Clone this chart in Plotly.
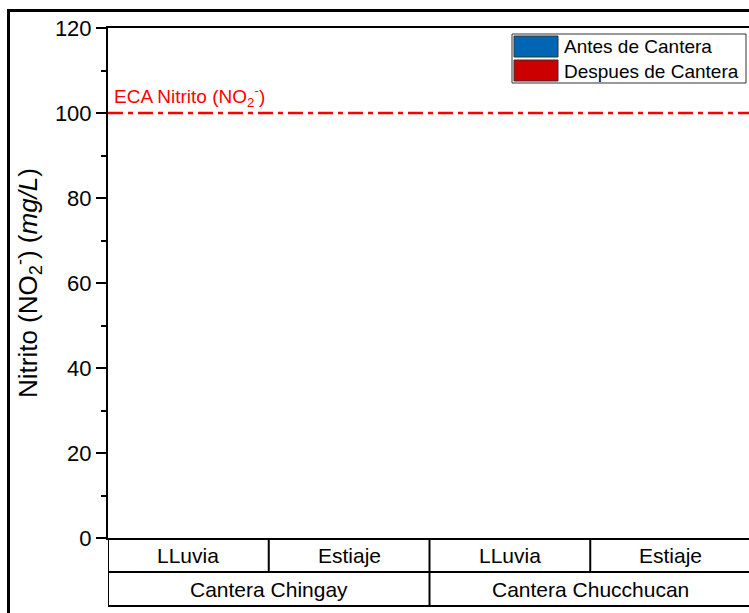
import plotly.graph_objects as go

# Data
periods = ["LLuvia", "Estiaje", "LLuvia", "Estiaje"]
canteras = ["Cantera Chingay", "Cantera Chucchucan"]
antes = [0, 0, 0, 0]
despues = [0, 0, 0, 0]
eca_value = 100
series_names = ["Antes de Cantera", "Despues de Cantera"]
series_colors = ["#0066B3", "#CC0000"]
y_ticks = [0, 20, 40, 60, 80, 100, 120]

FONT = "Liberation Sans, Arial, sans-serif"
xpos = list(range(len(periods)))

W, H = 749, 613
PL, PT, PB = 108, 28, 538
PR = 751  # the original plot area continues just past the cropped edge
PW = W - PL
PH = PB - PT
x_end = -0.5 + len(periods) * PW / (PR - PL)

fig = go.Figure()
for name, vals, col in zip(series_names, [antes, despues], series_colors):
    fig.add_trace(go.Bar(x=xpos, y=vals, name=name, marker=dict(color=col, line=dict(width=0)),
                         showlegend=False))

def px_x(px):
    return (px - PL) / PW

def px_y(py):
    return (PB - py) / PH

# ECA reference line
fig.add_shape(type="line", xref="paper", yref="y", x0=0, x1=1, y0=eca_value, y1=eca_value,
              line=dict(color="#FF0000", width=2.5, dash="15px,5px,5px,5px"))
fig.add_annotation(xref="paper", yref="y", x=px_x(112), y=eca_value, yshift=1,
                   text="ECA Nitrito (NO<sub>2</sub><sup>-</sup>)", showarrow=False,
                   xanchor="left", yanchor="bottom", font=dict(family=FONT, size=19, color="#FF0000"))

# Category table below the axis
row1 = px_y(572)
row2 = px_y(606)
line_k = dict(color="black", width=2)
fig.add_shape(type="line", xref="paper", yref="paper", x0=0, x1=1, y0=row1, y1=row1, line=line_k)
fig.add_shape(type="line", xref="paper", yref="paper", x0=0, x1=1, y0=row2, y1=row2, line=line_k)
for i in range(len(periods)):
    xv = i - 0.5
    bottom = row2 if i % 2 == 0 else row1
    fig.add_shape(type="line", xref="x", yref="paper", x0=xv, x1=xv, y0=0, y1=bottom, line=line_k)
for i, p in enumerate(periods):
    fig.add_annotation(xref="x", yref="paper", x=i, y=row1 / 2, text=p, showarrow=False,
                       font=dict(family=FONT, size=21, color="black"), yanchor="middle")
for j, c in enumerate(canteras):
    fig.add_annotation(xref="x", yref="paper", x=2 * j + 0.5, y=(row1 + row2) / 2, text=c,
                       showarrow=False, font=dict(family=FONT, size=21, color="black"), yanchor="middle")

# Custom legend
fig.add_shape(type="rect", xref="paper", yref="paper", x0=px_x(512), x1=px_x(746), y0=px_y(83), y1=px_y(34),
              line=dict(color="#333333", width=1), fillcolor="white")
sw_tops = [36, 60]
for top, name, col in zip(sw_tops, series_names, series_colors):
    fig.add_shape(type="rect", xref="paper", yref="paper", x0=px_x(514), x1=px_x(558),
                  y0=px_y(top + 21), y1=px_y(top), line=dict(color="#333333", width=1), fillcolor=col)
    fig.add_annotation(xref="paper", yref="paper", x=px_x(562), y=px_y(top + 11), text=name,
                       showarrow=False, xanchor="left", yanchor="middle",
                       font=dict(family=FONT, size=19, color="black"))

# Outer frame (cropped figure border)
fig.add_shape(type="rect", xref="paper", yref="paper", x0=px_x(8.5), x1=px_x(900), y0=px_y(900), y1=px_y(10.5),
              line=dict(color="black", width=3), fillcolor="rgba(0,0,0,0)", layer="below")

fig.update_layout(
    width=W, height=H,
    margin=dict(l=PL, r=0, t=PT, b=H - PB),
    paper_bgcolor="white", plot_bgcolor="white",
    barmode="group", bargap=0.3,
    font=dict(family=FONT, color="black"),
    xaxis=dict(range=[-0.5, x_end], showticklabels=False, ticks="", showgrid=False, zeroline=False,
               showline=True, linecolor="black", linewidth=2, mirror=True),
    yaxis=dict(range=[0, 120], tickvals=y_ticks, ticks="outside", ticklen=10, tickwidth=2,
               tickcolor="black", showgrid=False, zeroline=False, showline=True, linecolor="black",
               linewidth=2, tickfont=dict(family=FONT, size=22, color="black"),
               minor=dict(dtick=10, ticks="outside", ticklen=5, tickwidth=2, tickcolor="black", showgrid=False),
               title=dict(text="Nitrito (NO<sub>2</sub><sup>-</sup>) (<i>mg/L</i>)",
                          font=dict(family=FONT, size=26, color="black"), standoff=10)),
)

post = ("document.body.style.margin='0';document.body.style.overflow='hidden';"
        "var gd=document.getElementById('{plot_id}');"
        "Plotly.relayout(gd,{width:%d,height:%d});" % (W, H))
fig.write_html("out.html", post_script=post, config={"displayModeBar": False})
